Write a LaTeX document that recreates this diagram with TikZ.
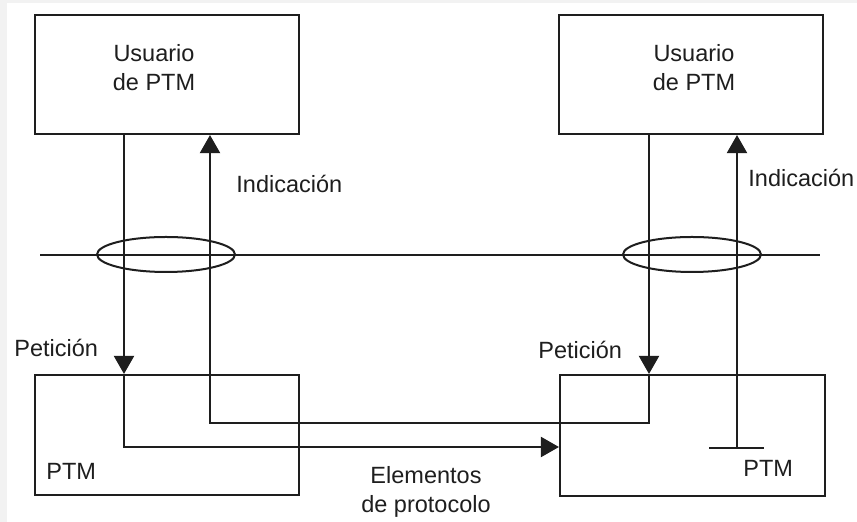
\documentclass[tikz,border=0pt]{standalone}
\usepackage{fontspec}
\setmainfont{Liberation Sans}
\usetikzlibrary{arrows.meta}
\definecolor{bgframe}{HTML}{F2F2F2}
\definecolor{ink}{HTML}{1E1E1E}
\begin{document}
\begin{tikzpicture}[x=0.5pt,y=-0.5pt,
  box/.style={draw=ink,line width=1.05pt,minimum width=132pt,minimum height=59.5pt,inner sep=0pt},
  wire/.style={draw=ink,line width=1pt},
  arr/.style={wire,-{Triangle[length=9pt,width=10pt]}},
  lbl/.style={inner sep=0pt,text=ink,font=\fontsize{11.75}{14.6}\selectfont},
  lblc/.style={lbl,align=center}]
\fill[bgframe] (0,0) rectangle (857,522);
\fill[white] (7,3) rectangle (857,522);
\useasboundingbox (0,0) rectangle (857,522);
% boxes
\node[box] (u1) at (167,74.5) {};
\node[box] (u2) at (691,74.5) {};
\node[box,minimum height=60pt] (p1) at (167,435) {};
\node[box,minimum width=132.5pt,minimum height=60.5pt] (p2) at (692.5,435.5) {};
% box texts
\node[lblc,anchor=base] (t1) at (154,91) {Usuario\\de PTM};
\node[lblc,anchor=base] (t2) at (694,91) {Usuario\\de PTM};
\node[lbl,anchor=base west] (pt1) at (46,480) {PTM};
\node[lbl,anchor=base west] (pt2) at (743,477) {PTM};
% service boundary
\coordinate (h1) at (40,255);
\coordinate (h2) at (820,255);
\draw[wire] (h1) -- (h2);
\draw[wire] (166,254.5) ellipse [x radius=69, y radius=17.5];
\draw[wire] (692,254.5) ellipse [x radius=69, y radius=17.5];
% left request -> protocol elements
\coordinate (a1) at (124,447);
\draw[arr] (u1.south -| a1) -- (a1 |- p1.north);
\draw[arr] (a1 |- p1.north) -- (a1) -- (a1 -| p2.west);
% right request -> left indication
\coordinate (b2) at (649,423);
\coordinate (b1) at (210,423);
\draw[arr] (u2.south -| b2) -- (b2 |- p2.north);
\draw[arr] (b2 |- p2.north) -- (b2) -- (b1) -- (b1 |- u1.south);
% right indication with stub
\coordinate (c) at (737,448);
\coordinate (c1) at (709,448);
\coordinate (c2) at (764,448);
\draw[arr] (c) -- (c |- u2.south);
\draw[wire] (c1) -- (c2);
% labels
\node[lbl,anchor=base west] (i1) at (236,193) {Indicación};
\node[lbl,anchor=base west] (i2) at (748,187) {Indicación};
\node[lbl,anchor=base west] (r1) at (14,357) {Petición};
\node[lbl,anchor=base west] (r2) at (538,359) {Petición};
\node[lblc,anchor=base] (e) at (426,513) {Elementos\\de protocolo};
\end{tikzpicture}
\end{document}
